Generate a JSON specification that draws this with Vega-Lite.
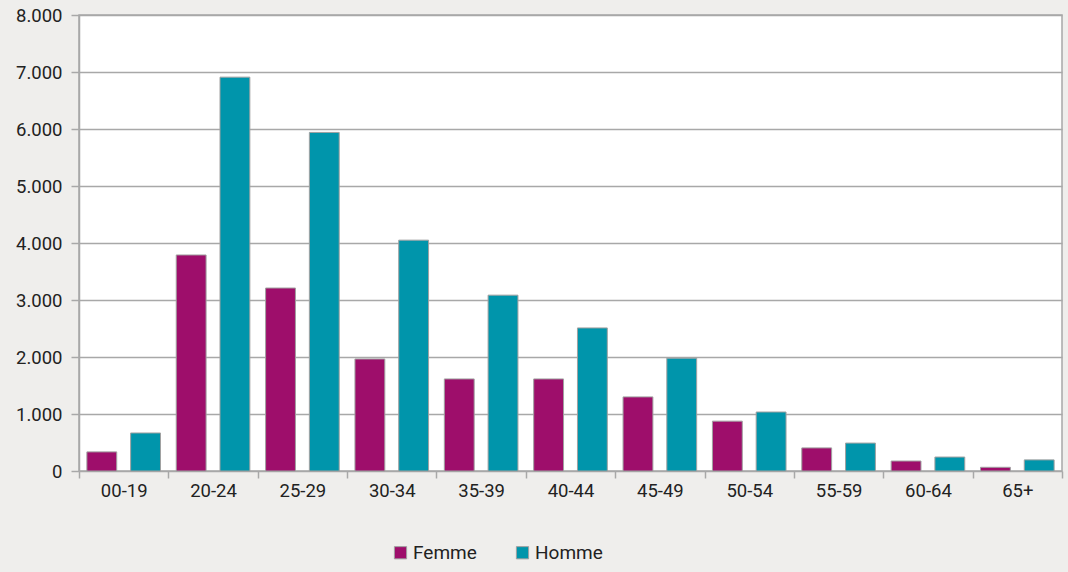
{
  "$schema": "https://vega.github.io/schema/vega-lite/v6.json",
  "width": 983,
  "height": 456,
  "autosize": {"type": "none"},
  "padding": {"left": 79, "top": 15, "right": 6, "bottom": 101},
  "background": "#efeeec",
  "config": {
    "view": {"fill": "#ffffff", "stroke": "#a8a8a8", "strokeWidth": 1.5},
    "font": "Roboto",
    "axis": {"labelFont": "Roboto", "labelFontSize": 18.5, "labelColor": "#222222"},
    "legend": {"labelFont": "Roboto", "labelFontSize": 19, "labelColor": "#222222"}
  },
  "data": {
    "values": [
      {"age": "00-19", "sexe": "Femme", "n": 335},
      {"age": "00-19", "sexe": "Homme", "n": 667},
      {"age": "20-24", "sexe": "Femme", "n": 3790},
      {"age": "20-24", "sexe": "Homme", "n": 6910},
      {"age": "25-29", "sexe": "Femme", "n": 3210},
      {"age": "25-29", "sexe": "Homme", "n": 5940},
      {"age": "30-34", "sexe": "Femme", "n": 1965},
      {"age": "30-34", "sexe": "Homme", "n": 4050},
      {"age": "35-39", "sexe": "Femme", "n": 1615},
      {"age": "35-39", "sexe": "Homme", "n": 3085},
      {"age": "40-44", "sexe": "Femme", "n": 1615},
      {"age": "40-44", "sexe": "Homme", "n": 2510},
      {"age": "45-49", "sexe": "Femme", "n": 1300},
      {"age": "45-49", "sexe": "Homme", "n": 1980},
      {"age": "50-54", "sexe": "Femme", "n": 875},
      {"age": "50-54", "sexe": "Homme", "n": 1035},
      {"age": "55-59", "sexe": "Femme", "n": 405},
      {"age": "55-59", "sexe": "Homme", "n": 490},
      {"age": "60-64", "sexe": "Femme", "n": 175},
      {"age": "60-64", "sexe": "Homme", "n": 245},
      {"age": "65+", "sexe": "Femme", "n": 65},
      {"age": "65+", "sexe": "Homme", "n": 195}
    ]
  },
  "mark": {"type": "bar", "stroke": "#a0a0a0", "strokeWidth": 1},
  "encoding": {
    "x": {
      "field": "age", "type": "nominal", "title": null,
      "scale": {"paddingInner": 0, "paddingOuter": 0},
      "axis": {"labelAngle": 0, "tickBand": "extent", "tickSize": 7, "tickColor": "#a8a8a8", "tickWidth": 1.5, "domain": false, "labelPadding": 3, "grid": false}
    },
    "xOffset": {
      "field": "sexe", "type": "nominal",
      "scale": {"paddingInner": 0.318, "paddingOuter": 0.18}
    },
    "y": {
      "field": "n", "type": "quantitative", "title": null,
      "scale": {"domain": [0, 8000], "nice": false},
      "axis": {
        "values": [0, 1000, 2000, 3000, 4000, 5000, 6000, 7000, 8000],
        "labelExpr": "replace(format(datum.value, ','), ',', '.')",
        "grid": true, "gridColor": "#a8a8a8", "gridWidth": 1.5, "gridOpacity": 1,
        "domain": true, "domainColor": "#a8a8a8", "domainWidth": 1.5,
        "tickSize": 8, "tickColor": "#a8a8a8", "tickWidth": 1.5, "labelPadding": 9
      }
    },
    "color": {
      "field": "sexe", "type": "nominal", "title": null,
      "scale": {"domain": ["Femme", "Homme"], "range": ["#9e0e6b", "#0095ab"]},
      "legend": {
        "orient": "none", "legendX": 312, "legendY": 528, "direction": "horizontal",
        "symbolType": "square", "symbolSize": 150, "symbolStrokeColor": "#a0a0a0", "symbolStrokeWidth": 1,
        "symbolOpacity": 1, "labelOffset": 3, "columnPadding": 36
      }
    }
  }
}
